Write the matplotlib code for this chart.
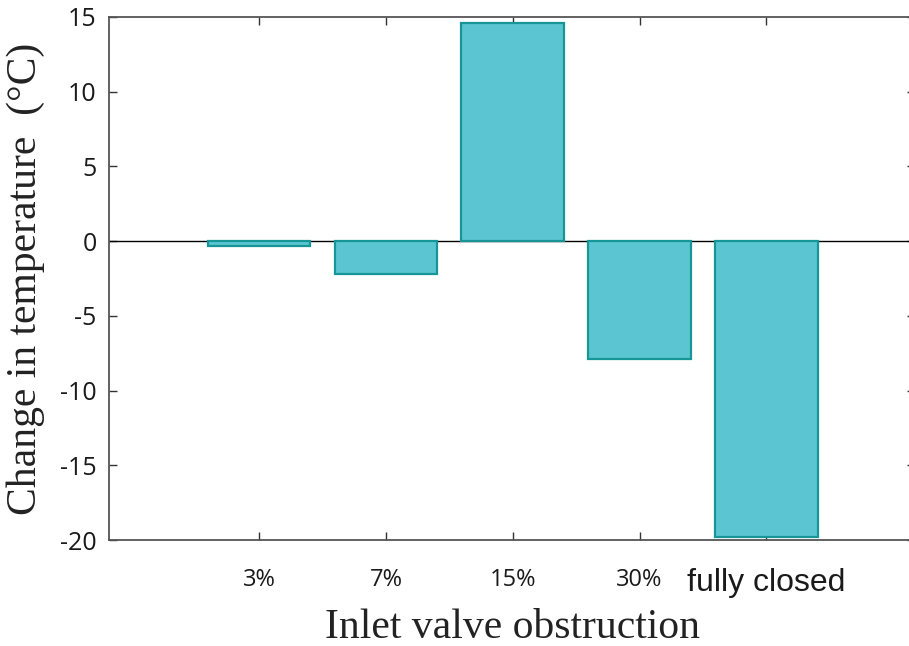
import matplotlib
matplotlib.use("Agg")
import matplotlib.pyplot as plt

plt.rcParams["axes.unicode_minus"] = False

# change in temperature for each inlet valve obstruction level
obstruction = ["3%", "7%", "15%", "30%", "fully closed"]
temp_change = [-0.3, -2.2, 14.6, -7.9, -19.8]
positions = [1, 2, 3, 4, 5]
yticks = [-20, -15, -10, -5, 0, 5, 10, 15]

fig = plt.figure(figsize=(9.09, 6.46), dpi=100)
ax = fig.add_axes([0.12, 0.164, 0.887, 0.81])

ax.bar(positions, temp_change, width=0.81, color="#5bc6d1",
       edgecolor="#169696", linewidth=1.6, zorder=3)
ax.axhline(0, color="black", linewidth=1.0, zorder=2)

ax.set_xlim(-0.183, 6.175)
ax.set_ylim(-20, 15)
ax.set_yticks(yticks)
ax.set_xticks(positions)
ax.set_xticklabels(obstruction)

for s in ax.spines.values():
    s.set_color("#555555")
    s.set_linewidth(1.3)

ax.tick_params(axis="both", direction="in", length=6, width=1.0,
               color="#333333", top=True, right=True)
ax.tick_params(axis="y", pad=9, labelsize=18)
ax.tick_params(axis="x", pad=20, labelsize=17)
for lab in ax.get_yticklabels() + ax.get_xticklabels():
    lab.set_fontfamily("Open Sans")
    lab.set_color("#1a1a1a")
# the last category is set in a different face
last = ax.get_xticklabels()[-1]
last.set_fontfamily("Liberation Sans")
last.set_fontsize(23)

ax.set_ylabel("Change in temperature  (\u00b0C)", fontfamily="Liberation Serif",
              fontsize=30, color="#222222", labelpad=11)
ax.set_xlabel("Inlet valve obstruction", fontfamily="Liberation Serif",
              fontsize=30, color="#222222", labelpad=8)

fig.savefig("out.png", dpi=100)
